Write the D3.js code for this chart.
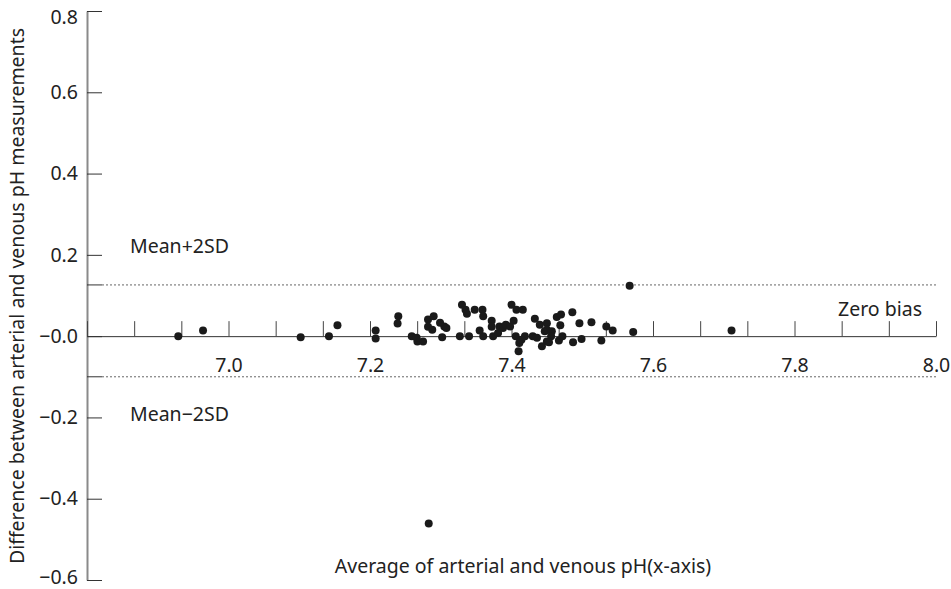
<!DOCTYPE html>
<html>
<head>
<meta charset="utf-8">
<script src="https://cdn.jsdelivr.net/npm/d3@7"></script>
<style>
  body { margin: 0; background: #fff; }
  text { font-family: "Noto Sans", sans-serif; fill: #222; }
</style>
</head>
<body>
<script>
// average pH (x) vs arterial - venous difference (y)
const avgPH = [
  6.929, 6.964, 7.102, 7.142, 7.154, 7.208, 7.208, 7.240, 7.239, 7.259,
  7.267, 7.275, 7.266, 7.282, 7.290, 7.282, 7.288, 7.305, 7.302, 7.308,
  7.299, 7.330, 7.335, 7.337, 7.348, 7.359, 7.360, 7.327, 7.340, 7.360,
  7.355, 7.372, 7.372, 7.374, 7.383, 7.381, 7.388, 7.392, 7.398, 7.403,
  7.400, 7.407, 7.416, 7.406, 7.411, 7.410, 7.419, 7.414, 7.433, 7.440,
  7.430, 7.436, 7.443, 7.447, 7.450, 7.450, 7.450, 7.457, 7.464, 7.470,
  7.469, 7.456, 7.453, 7.467, 7.472, 7.486, 7.487, 7.496, 7.499, 7.513,
  7.527, 7.534, 7.543, 7.567, 7.572, 7.711, 7.283
];
const diffPH = [
  0.000, 0.014, -0.003, 0.000, 0.027, 0.014, -0.006, 0.049, 0.031, 0.000,
  -0.013, -0.013, -0.004, 0.041, 0.049, 0.023, 0.016, 0.024, -0.003, 0.020,
  0.033, 0.077, 0.065, 0.055, 0.065, 0.065, 0.049, 0.000, 0.000, 0.000,
  0.014, 0.038, 0.023, 0.000, 0.024, 0.008, 0.020, 0.028, 0.024, 0.038,
  0.077, 0.065, 0.065, 0.000, -0.017, -0.037, 0.000, -0.009, 0.043, 0.028,
  0.000, -0.004, -0.025, 0.012, -0.013, 0.032, 0.016, 0.012, 0.047, 0.053,
  0.027, 0.000, -0.015, -0.011, 0.000, 0.059, -0.015, 0.032, -0.007, 0.034,
  -0.011, 0.024, 0.014, 0.124, 0.010, 0.014, -0.461
];

const limits = [
  { name: 'Mean+2SD', value: 0.126 },
  { name: 'Mean\u22122SD', value: -0.100 }
];

const xLabelTicks = [7.0, 7.2, 7.4, 7.6, 7.8, 8.0];
const yTicks = [0.8, 0.6, 0.4, 0.2, 0.0, -0.2, -0.4, -0.6];

const width = 951, height = 589;
const margin = { left: 87, right: 936, top: 11, bottom: 580 };

const x = d3.scaleLinear().domain([6.8, 8.0]).range([margin.left, margin.right]);
const y = d3.scaleLinear().domain([-0.6, 0.8]).range([margin.bottom, margin.top]);

const svg = d3.select('body').append('svg')
  .attr('width', width)
  .attr('height', height);

// y axis, ticks point inward
const yAxis = svg.append('g')
  .attr('transform', `translate(${margin.left},0)`)
  .call(d3.axisLeft(y)
    .tickValues(yTicks)
    .tickSizeInner(-15)
    .tickSizeOuter(0)
    .tickPadding(9)
    .tickFormat(d => (d <= 0 ? '\u2212' : '') + Math.abs(d).toFixed(1)));
yAxis.select('.domain').attr('stroke', '#8a8a8a').attr('stroke-width', 2);
yAxis.selectAll('.tick line').attr('stroke', '#333');
yAxis.selectAll('.tick text')
  .style('font-family', '"Noto Sans", sans-serif')
  .style('font-size', '19.5px')
  .attr('fill', '#222')
  // keep the end labels inside the picture
  .attr('dy', d => d === 0.8 ? '0.62em' : d === -0.6 ? '0.18em' : '0.32em');

// x axis runs along zero bias line; minor ticks every 1/15
const minorTicks = d3.range(0, 19).map(i => 6.8 + i * 0.2 / 3);
const xAxis = svg.append('g')
  .attr('transform', `translate(0,${y(0)})`)
  .call(d3.axisBottom(x)
    .tickValues(minorTicks)
    .tickSizeInner(-15)
    .tickSizeOuter(0)
    .tickFormat(''));
xAxis.select('.domain').attr('stroke', '#333');
xAxis.selectAll('.tick line').attr('stroke', '#444');

svg.append('g')
  .attr('transform', `translate(0,${y(0)})`)
  .call(d3.axisBottom(x)
    .tickValues(xLabelTicks)
    .tickSize(0)
    .tickPadding(22)
    .tickFormat(d3.format('.1f')))
  .call(g => g.select('.domain').remove())
  .selectAll('text')
    .style('font-family', '"Noto Sans", sans-serif')
    .style('font-size', '19.5px')
    .attr('fill', '#222');

// mean +/- 2SD lines
limits.forEach(l => {
  svg.append('line')
    .attr('x1', margin.left).attr('x2', margin.left + 15)
    .attr('y1', y(l.value)).attr('y2', y(l.value))
    .attr('stroke', '#333');
  svg.append('line')
    .attr('x1', margin.left + 15).attr('x2', margin.right)
    .attr('y1', y(l.value)).attr('y2', y(l.value))
    .attr('stroke', '#666')
    .attr('stroke-dasharray', '2,2');
});

svg.append('text')
  .attr('x', 130).attr('y', y(limits[0].value) - 32)
  .style('font-size', '19.5px')
  .text(limits[0].name);
svg.append('text')
  .attr('x', 130).attr('y', y(limits[1].value) + 44)
  .style('font-size', '19.5px')
  .text(limits[1].name);
svg.append('text')
  .attr('x', 922).attr('y', y(0) - 20)
  .attr('text-anchor', 'end')
  .style('font-size', '19.5px')
  .text('Zero bias');

// points
svg.append('g')
  .selectAll('circle')
  .data(avgPH.map((v, i) => ({ x: v, y: diffPH[i] })))
  .join('circle')
    .attr('cx', d => x(d.x))
    .attr('cy', d => y(d.y))
    .attr('r', 4)
    .attr('fill', '#1a1a1a');

// axis titles
svg.append('text')
  .attr('x', 523).attr('y', 573)
  .attr('text-anchor', 'middle')
  .style('font-size', '19.5px')
  .text('Average of arterial and venous pH(x-axis)');

svg.append('text')
  .attr('transform', `translate(24,296) rotate(-90)`)
  .attr('text-anchor', 'middle')
  .style('font-size', '19.5px')
  .text('Difference between arterial and venous pH measurements');
</script>
</body>
</html>
